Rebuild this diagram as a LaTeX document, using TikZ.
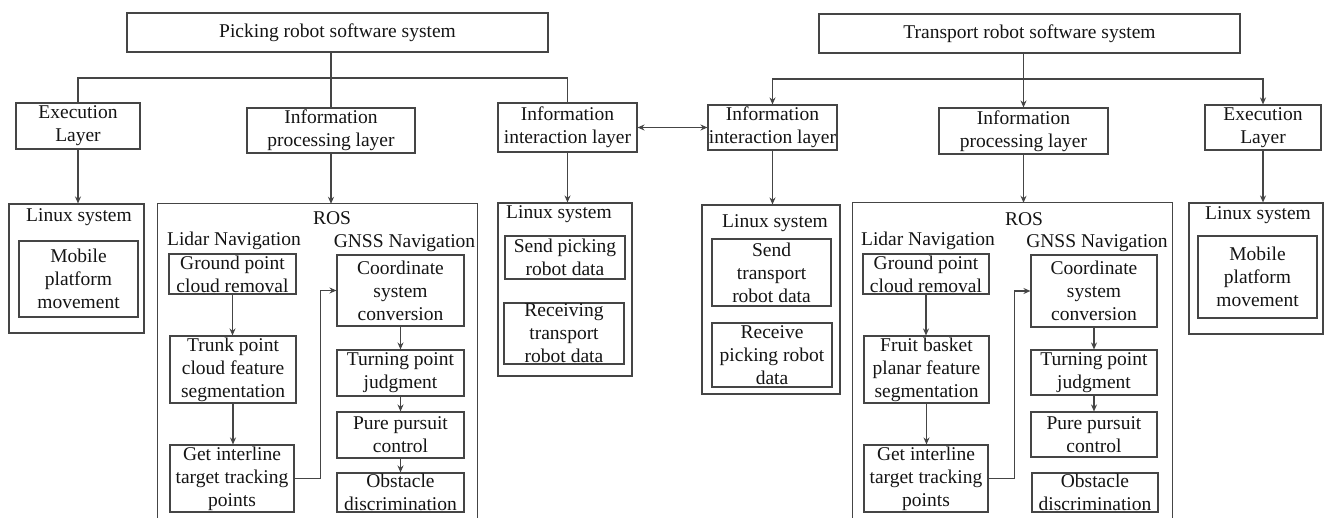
\documentclass[tikz,border=0pt]{standalone}
\usepackage{fontspec}
\setmainfont{Liberation Serif}
\newfontfamily\diafont{Liberation Serif}
\usetikzlibrary{arrows.meta}
\definecolor{ln}{HTML}{454545}
\definecolor{tx}{HTML}{141414}
\tikzset{
  box/.style={draw=ln,line width=1.1pt,inner sep=0pt},
  lbl/.style={align=center,inner sep=0pt,text=tx,font=\diafont\fontsize{19.5}{23}\selectfont},
  con/.style={draw=ln,line width=1.1pt},
  arr/.style={draw=ln,line width=1.1pt,-{Stealth[length=7pt,width=6pt]}},
  darr/.style={draw=ln,line width=1.1pt,{Stealth[length=7pt,width=6pt]}-{Stealth[length=7pt,width=6pt]}}
}
% box with centred text: name, cx, cy, w, h, text
\newcommand\bx[6]{\node[box,minimum width=#4pt,minimum height=#5pt,label={[lbl]center:{#6}}] (#1) at (#2,#3) {};}
% frame without text
\newcommand\fr[5]{\node[box,minimum width=#4pt,minimum height=#5pt] (#1) at (#2,#3) {};}
\begin{document}
\begin{tikzpicture}[x=1pt,y=-1pt]
\useasboundingbox (0,0) rectangle (1325,518);

% ---------- top level ----------
\bx{pk}{337.5}{32.5}{421}{39}{Picking robot software system}
\bx{tr}{1029.5}{33.5}{421}{39}{Transport robot software system}
\bx{exL}{78}{126}{124}{46}{Execution\\Layer}
\bx{ipL}{331}{130.5}{168}{45}{Information\\processing layer}
\bx{iiL}{567.5}{127.5}{139}{49}{Information\\interaction layer}
\bx{iiR}{772.5}{127.5}{129}{45}{Information\\interaction layer}
\bx{ipR}{1023.5}{131}{169}{46}{Information\\processing layer}
\bx{exR}{1263}{127.5}{116}{45}{Execution\\Layer}

\coordinate (busL) at (331,78);
\coordinate (busR) at (1023.5,79);
\draw[con] (pk.south -| busL) -- (ipL.north);
\draw[con] (exL.north) |- (busL) -| (iiL.north);
\draw[con] (tr.south -| busR) -- (busR);
\draw[arr] (busR) -- (ipR.north);
\draw[arr] (busR) -| (iiR.north);
\draw[arr] (busR) -| (exR.north);
\draw[darr] (iiL.east) -- (iiR.west);

% ---------- left execution ----------
\fr{linL}{76.5}{268.5}{135}{129}
\node[lbl] (linLt) at (79,217) {Linux system};
\bx{mobL}{78.5}{279}{119}{76}{Mobile\\platform\\movement}
\draw[arr] (exL.south) -- (exL.south |- linL.north);

% ---------- left ROS ----------
\node[inner sep=0pt,minimum width=319pt,minimum height=314pt] (rosL) at (317.5,361) {};
\draw[con] (rosL.south west) |- (rosL.north east) -- (rosL.south east);
\draw[arr] (ipL.south) -- (ipL.south |- rosL.north);
\node[lbl] (rosLt) at (332,218) {ROS};
\node[lbl] (lidL) at (234,241) {Lidar Navigation};
\node[lbl] (gnL) at (404.5,243) {GNSS Navigation};
\bx{gpL}{232.5}{274}{127}{40}{Ground point\\cloud removal}
\bx{tkL}{233}{369.5}{126}{67}{Trunk point\\cloud feature\\segmentation}
\bx{giL}{232}{478.5}{124}{67}{Get interline\\target tracking\\points}
\bx{coL}{400.5}{290.5}{127}{71}{Coordinate\\system\\conversion}
\bx{tpL}{400.5}{373}{127}{46}{Turning point\\judgment}
\bx{ppL}{400.5}{435}{127}{46}{Pure pursuit\\control}
\bx{obL}{400.5}{492.5}{127}{39}{Obstacle\\discrimination}
\draw[arr] (gpL.south) -- (gpL.south |- tkL.north);
\draw[arr] (tkL.south) -- (tkL.south |- giL.north);
\draw[arr] (giL.east) -- ++(26,0) |- (coL.west);
\draw[arr] (coL.south) -- (tpL.north);
\draw[arr] (tpL.south) -- (ppL.north);
\draw[arr] (ppL.south) -- (obL.north);

% ---------- middle ----------
\fr{linM1}{565}{289.5}{134}{173}
\node[lbl] (linM1t) at (559,214) {Linux system};
\bx{spM}{565}{257.5}{120}{43}{Send picking\\robot data}
\bx{rtM}{564}{333.5}{120}{61}{Receiving\\transport\\robot data}
\draw[arr] (iiL.south) -- (iiL.south |- linM1.north);

\fr{linM2}{771}{299.5}{138}{189}
\node[lbl] (linM2t) at (775,223) {Linux system};
\bx{stM}{771.5}{272.5}{119}{67}{Send\\transport\\robot data}
\bx{rpM}{772}{355}{120}{64}{Receive\\picking robot\\data}
\draw[arr] (iiR.south) -- (iiR.south |- linM2.north);

% ---------- right ROS ----------
\node[inner sep=0pt,minimum width=319pt,minimum height=315pt] (rosR) at (1012.5,360.5) {};
\draw[con] (rosR.south west) |- (rosR.north east) -- (rosR.south east);
\draw[arr] (ipR.south) -- (ipR.south |- rosR.north);
\node[lbl] (rosRt) at (1024,219) {ROS};
\node[lbl] (lidR) at (928,241) {Lidar Navigation};
\node[lbl] (gnR) at (1097,243) {GNSS Navigation};
\bx{gpR}{926}{274}{126}{40}{Ground point\\cloud removal}
\bx{fbR}{926.5}{369.5}{125}{67}{Fruit basket\\planar feature\\segmentation}
\bx{giR}{926}{478.5}{124}{67}{Get interline\\target tracking\\points}
\bx{coR}{1094}{291}{126}{72}{Coordinate\\system\\conversion}
\bx{tpR}{1094}{372.5}{126}{45}{Turning point\\judgment}
\bx{ppR}{1094}{434.5}{126}{45}{Pure pursuit\\control}
\bx{obR}{1095}{492.5}{126}{39}{Obstacle\\discrimination}
\draw[arr] (gpR.south) -- (gpR.south |- fbR.north);
\draw[arr] (fbR.south) -- (fbR.south |- giR.north);
\draw[arr] (giR.east) -- ++(26,0) |- (coR.west);
\draw[arr] (coR.south) -- (tpR.north);
\draw[arr] (tpR.south) -- (ppR.north);

% ---------- right execution ----------
\fr{linR}{1256}{268.5}{134}{131}
\node[lbl] (linRt) at (1258,215) {Linux system};
\bx{mobR}{1257.5}{277}{119}{82}{Mobile\\platform\\movement}
\draw[arr] (exR.south) -- (exR.south |- linR.north);
\end{tikzpicture}
\end{document}
